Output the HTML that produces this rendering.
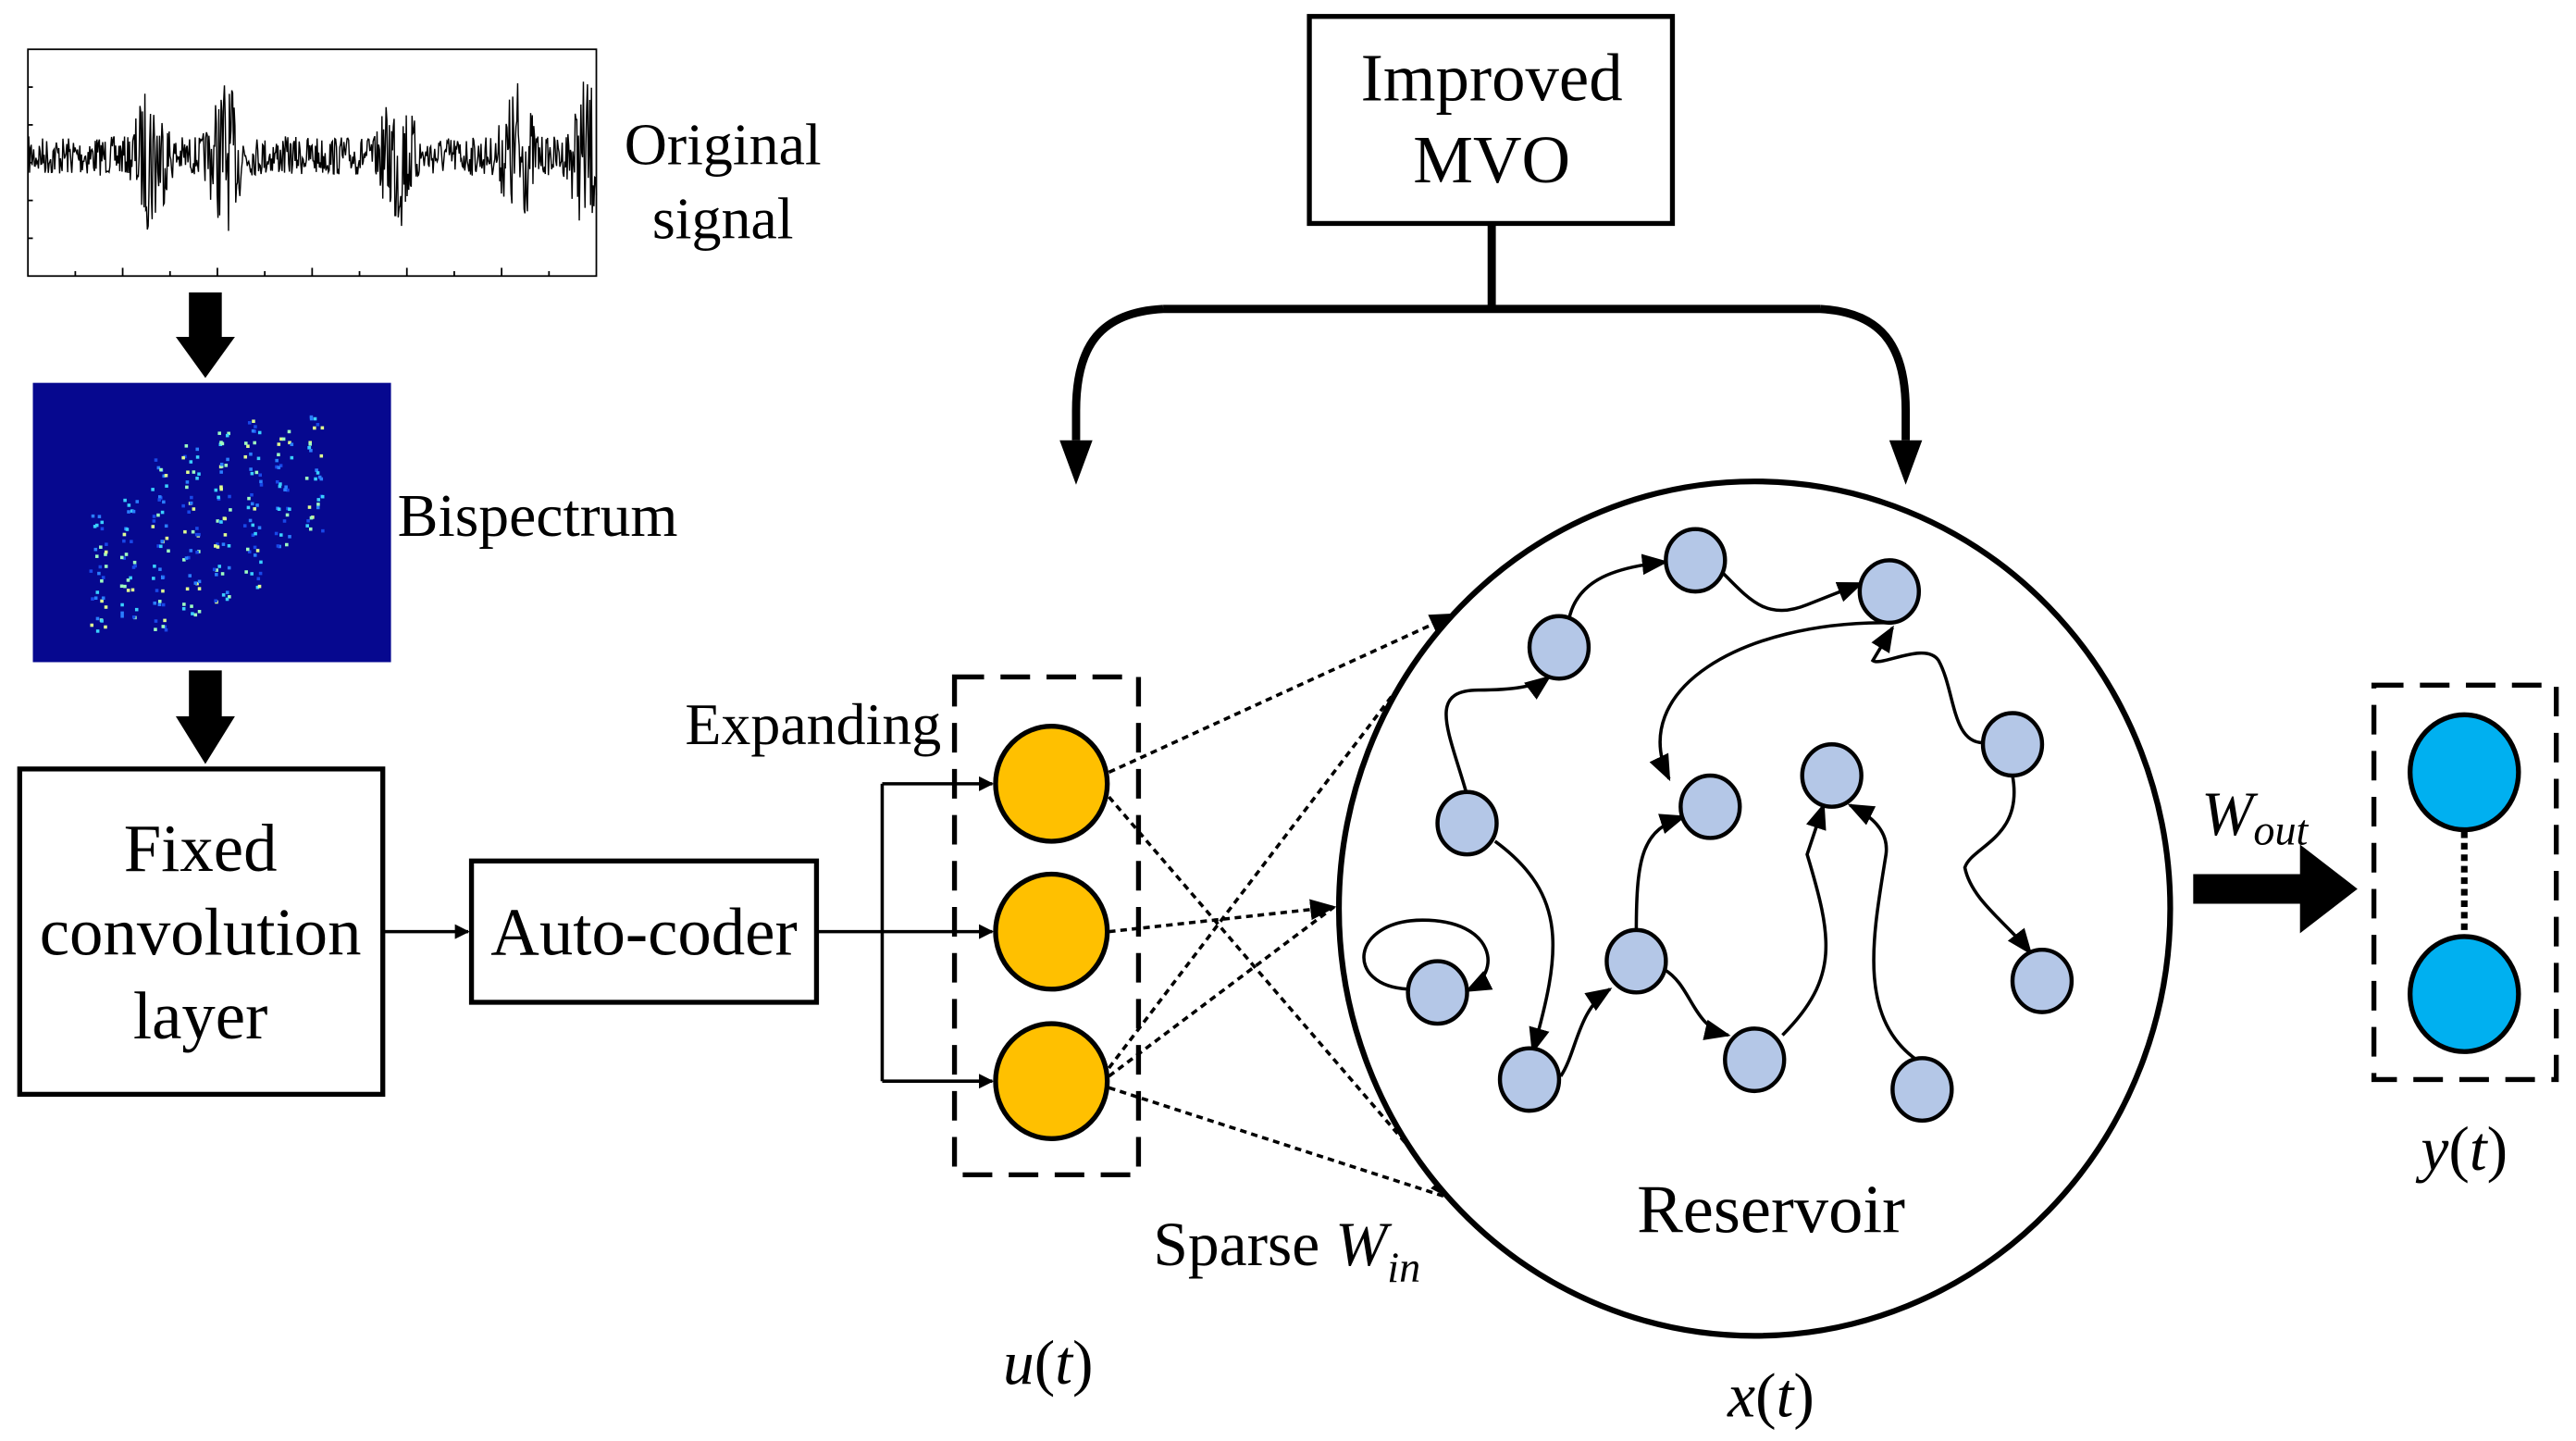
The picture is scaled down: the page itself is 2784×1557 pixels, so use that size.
<!DOCTYPE html>
<html><head><meta charset="utf-8"><style>
html,body{margin:0;padding:0;background:#fff;}
svg{display:block;}
text{font-family:"Liberation Serif",serif;fill:#000;}
</style></head><body>
<svg id="s" width="2784" height="1557" viewBox="0 0 1568 877" preserveAspectRatio="none" xmlns="http://www.w3.org/2000/svg">
<defs>
<marker id="a" viewBox="0 0 10 10" refX="9" refY="5" markerWidth="9" markerHeight="9" markerUnits="userSpaceOnUse" orient="auto"><path d="M0,0 L10,5 L0,10 z" fill="#000"/></marker>
<marker id="b" viewBox="0 0 10 10" refX="9" refY="5" markerWidth="16" markerHeight="16" markerUnits="userSpaceOnUse" orient="auto"><path d="M0,1 L10,5 L0,9 z" fill="#000"/></marker>
</defs>
<!-- signal -->
<rect x="17" y="30" width="346" height="138" fill="#fff" stroke="#000" stroke-width="1"/>
<g id="ticks" stroke="#000" stroke-width="1"></g>
<path id="sig" fill="none" stroke="#000" stroke-width="0.8"/>
<text x="440" y="100" font-size="36" text-anchor="middle">Original</text>
<text x="440" y="145" font-size="36" text-anchor="middle">signal</text>
<path d="M115,178 H135 V205 H143 L125,230 L107,205 H115 Z" fill="#000"/>
<!-- bispectrum -->
<rect x="20" y="233" width="218" height="170" fill="#06088f"/>
<g id="bis"></g>
<text x="242" y="326" font-size="37">Bispectrum</text>
<path d="M115,408 H135 V436 H143 L125,465 L107,436 H115 Z" fill="#000"/>
<!-- fixed conv -->
<rect x="12" y="468" width="221" height="198" fill="#fff" stroke="#000" stroke-width="3"/>
<text x="122" y="530" font-size="41" text-anchor="middle">Fixed</text>
<text x="122" y="581" font-size="41" text-anchor="middle">convolution</text>
<text x="122" y="632" font-size="41" text-anchor="middle">layer</text>
<line x1="233" y1="567" x2="285" y2="567" stroke="#000" stroke-width="2" marker-end="url(#a)"/>
<rect x="287" y="524" width="210" height="86" fill="#fff" stroke="#000" stroke-width="3"/>
<text x="392" y="581" font-size="41" text-anchor="middle">Auto-coder</text>
<path d="M497,567 H537 M537,477 V658" stroke="#000" stroke-width="2" fill="none"/>
<line x1="537" y1="477" x2="604" y2="477" stroke="#000" stroke-width="2" marker-end="url(#a)"/>
<line x1="537" y1="567" x2="604" y2="567" stroke="#000" stroke-width="2" marker-end="url(#a)"/>
<line x1="537" y1="658" x2="604" y2="658" stroke="#000" stroke-width="2" marker-end="url(#a)"/>
<text x="417" y="453" font-size="36">Expanding</text>
<rect x="581" y="412" width="112" height="303" fill="none" stroke="#000" stroke-width="3" stroke-dasharray="18,10"/>
<g fill="#ffc000" stroke="#000" stroke-width="3">
<ellipse cx="640" cy="477" rx="34" ry="35"/>
<ellipse cx="640" cy="567" rx="34" ry="35"/>
<ellipse cx="640" cy="658" rx="34" ry="35"/>
</g>
<g stroke="#000" stroke-width="2" stroke-dasharray="4,3" fill="none">
<line x1="675" y1="470" x2="885" y2="374" marker-end="url(#b)"/>
<line x1="675" y1="485" x2="885" y2="730" marker-end="url(#b)"/>
<line x1="675" y1="567" x2="812" y2="552" marker-end="url(#b)"/>
<line x1="675" y1="650" x2="885" y2="374"/>
<line x1="675" y1="655" x2="812" y2="552"/>
<line x1="675" y1="662" x2="885" y2="730"/>
</g>
<text x="702" y="770" font-size="38">Sparse <tspan font-style="italic">W</tspan><tspan font-style="italic" font-size="26" dy="10">in</tspan></text>
<text x="638" y="842" font-size="38" text-anchor="middle"><tspan font-style="italic">u</tspan>(<tspan font-style="italic">t</tspan>)</text>
<!-- MVO -->
<rect x="797" y="10" width="221" height="126" fill="#fff" stroke="#000" stroke-width="3"/>
<text x="908" y="61" font-size="41" text-anchor="middle">Improved</text>
<text x="908" y="111" font-size="41" text-anchor="middle">MVO</text>
<path d="M908,136 V188 M708,188 H1108 M708,188 C670,190 655,210 655,250 V268 M1108,188 C1145,190 1160,210 1160,250 V268" stroke="#000" stroke-width="5" fill="none"/>
<path d="M645,268 L665,268 L655,295 Z M1150,268 L1170,268 L1160,295 Z" fill="#000"/>
<!-- reservoir -->
<ellipse cx="1068" cy="553" rx="253" ry="260" fill="#fff" stroke="#000" stroke-width="3.5"/>
<g stroke="#000" stroke-width="2" fill="none">
<path d="M857,602 C818,600 822,560 866,560 C910,560 915,592 893,603" marker-end="url(#b)"/>
<path d="M893,484 C882,445 868,420 900,420 C920,420 935,418 943,412" marker-end="url(#b)"/>
<path d="M955,377 C960,352 985,345 1014,342" marker-end="url(#b)"/>
<path d="M1048,348 C1065,365 1075,378 1100,368 L1133,355" marker-end="url(#b)"/>
<path d="M1150,379 C1060,378 990,420 1016,474" marker-end="url(#b)"/>
<path d="M1207,452 C1188,452 1190,420 1180,402 C1172,390 1145,406 1140,402 L1152,382" marker-end="url(#b)"/>
<path d="M1225,472 C1232,510 1200,515 1196,528 C1200,548 1222,562 1236,580" marker-end="url(#b)"/>
<path d="M910,512 C955,545 950,580 933,640" marker-end="url(#b)"/>
<path d="M950,655 C960,640 960,615 980,602" marker-end="url(#b)"/>
<path d="M996,567 C996,520 1000,505 1025,497" marker-end="url(#b)"/>
<path d="M1013,590 C1030,600 1030,625 1052,630" marker-end="url(#b)"/>
<path d="M1085,630 C1120,595 1115,570 1100,520 L1110,490" marker-end="url(#b)"/>
<path d="M1168,646 C1130,620 1140,570 1148,520 C1150,505 1138,496 1126,490" marker-end="url(#b)"/>
</g>
<g fill="#b4c7e7" stroke="#000" stroke-width="2.5">
<ellipse cx="949" cy="394" rx="18" ry="19"/><ellipse cx="1032" cy="341" rx="18" ry="19"/>
<ellipse cx="1150" cy="360" rx="18" ry="19"/><ellipse cx="893" cy="501" rx="18" ry="19"/>
<ellipse cx="1041" cy="491" rx="18" ry="19"/><ellipse cx="1115" cy="472" rx="18" ry="19"/>
<ellipse cx="1225" cy="453" rx="18" ry="19"/><ellipse cx="875" cy="604" rx="18" ry="19"/>
<ellipse cx="996" cy="585" rx="18" ry="19"/><ellipse cx="931" cy="657" rx="18" ry="19"/>
<ellipse cx="1068" cy="645" rx="18" ry="19"/><ellipse cx="1243" cy="597" rx="18" ry="19"/>
<ellipse cx="1170" cy="663" rx="18" ry="19"/>
</g>
<text x="1078" y="750" font-size="42" text-anchor="middle">Reservoir</text>
<text x="1078" y="862" font-size="38" text-anchor="middle"><tspan font-style="italic">x</tspan>(<tspan font-style="italic">t</tspan>)</text>
<!-- Wout -->
<path d="M1335,532 H1400 V514 L1435,541 L1400,568 V550 H1335 Z" fill="#000"/>
<text x="1340" y="508" font-size="38" font-style="italic">W<tspan font-size="26" dy="6">out</tspan></text>
<rect x="1445" y="417" width="111" height="240" fill="none" stroke="#000" stroke-width="3" stroke-dasharray="18,10"/>
<line x1="1500" y1="506" x2="1500" y2="571" stroke="#000" stroke-width="4" stroke-dasharray="4,3"/>
<g fill="#00b0f0" stroke="#000" stroke-width="3">
<ellipse cx="1500" cy="470" rx="33" ry="35"/>
<ellipse cx="1500" cy="605" rx="33" ry="35"/>
</g>
<text x="1500" y="712" font-size="38" text-anchor="middle"><tspan font-style="italic">y</tspan>(<tspan font-style="italic">t</tspan>)</text>
</svg>
<script>
(function(){
var seed=7;function r(){seed=(seed*16807)%2147483647;return (seed-1)/2147483646;}
var d="M17,95";var n=700;
var bursts=[75,120,225,298,340];
for(var i=1;i<=n;i++){var x=17+346*i/n;var amp=12;
for(var k=0;k<bursts.length;k++){var dd=Math.abs(x-17-bursts[k]);if(dd<14)amp+=40*(1-dd/14);}
var y=95+(r()-0.5)*2*amp;y=Math.max(35,Math.min(165,y));d+=" L"+x.toFixed(1)+","+y.toFixed(1);}
document.getElementById("sig").setAttribute("d",d);
var t="";for(var i=1;i<12;i++){var x=17+i*346/12;t+='<line x1="'+x+'" y1="168" x2="'+x+'" y2="'+(i%2?165:163)+'"/>';}
for(var j=1;j<6;j++){var y=30+j*138/6;t+='<line x1="17" y1="'+y+'" x2="20" y2="'+y+'"/>';}
document.getElementById("ticks").innerHTML=t;
var b="";
for(var gx=0;gx<8;gx++)for(var gy=0;gy<7;gy++){
var u=(gx-3.5)/4,v=(gy-3)/3.5;var cx=125+u*75,cy=318+v*55-u*35;
if(u*u+v*v>1.1)continue;
for(var m=0;m<6;m++){var c=["#2a7fff","#3ad0ff","#9fffc0","#1848e8","#e0ff90"][Math.floor(r()*5)];
b+='<rect x="'+(cx+(r()-0.5)*10).toFixed(1)+'" y="'+(cy+(r()-0.5)*10).toFixed(1)+'" width="2" height="2" fill="'+c+'"/>';}}
document.getElementById("bis").innerHTML=b;
})();
</script>
</body></html>
